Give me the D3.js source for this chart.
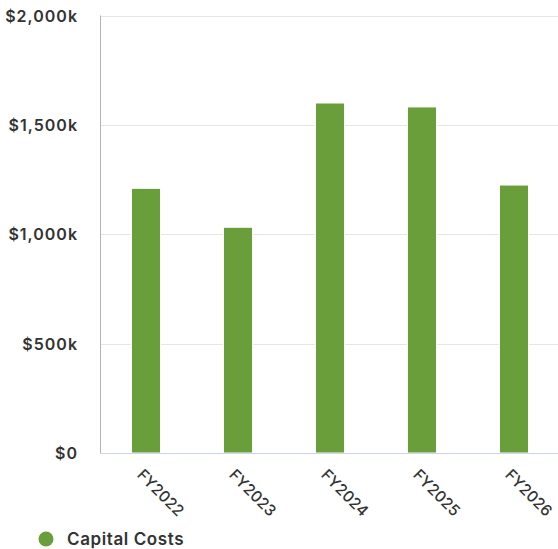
<!DOCTYPE html>
<html>
<head>
<meta charset="utf-8">
<script src="https://cdn.jsdelivr.net/npm/d3@7"></script>
<style>
  html, body { margin: 0; padding: 0; background: #fff; }
  svg { display: block; font-family: Inter, "Noto Sans", sans-serif; }
</style>
</head>
<body>
<svg id="chart" width="558" height="549"></svg>
<script>
// fiscal years and capital costs (in $k)
const years = ['FY2022', 'FY2023', 'FY2024', 'FY2025', 'FY2026'];
const capitalCosts = [1210, 1032, 1600, 1582, 1225];
const yTicks = [0, 500, 1000, 1500, 2000];
const seriesName = 'Capital Costs';

const W = 558, H = 549;
const margin = { top: 15.5, right: -2, bottom: 96, left: 100 };
const green = '#699e3a';

const svg = d3.select('#chart');

const x = d3.scaleBand()
  .domain(years)
  .range([margin.left, W - margin.right])
  .paddingInner(0.685)
  .paddingOuter(0.3425);

const y = d3.scaleLinear()
  .domain([0, 2000])
  .range([H - margin.bottom, margin.top]);

// gridlines
svg.append('g')
  .selectAll('line')
  .data(yTicks)
  .join('line')
  .attr('x1', margin.left)
  .attr('x2', W)
  .attr('y1', d => Math.round(y(d)) + 0.5)
  .attr('y2', d => Math.round(y(d)) + 0.5)
  .attr('stroke', '#e6e6e6');

// y axis labels
const yAxis = svg.append('g')
  .attr('transform', `translate(${margin.left - 23},0)`)
  .call(d3.axisLeft(y).tickValues(yTicks).tickSize(0)
    .tickFormat(d => '$' + d3.format(',')(d) + (d ? 'k' : '')));
yAxis.select('.domain').remove();
yAxis.selectAll('text')
  .attr('x', 1)
  .attr('dy', '0.35em')
  .attr('fill', '#333')
  .style('font-size', '16px')
  .style('letter-spacing', '1px')
  .style('font-weight', 600)
  .style('font-family', 'Inter, sans-serif');

// left axis line
svg.append('line')
  .attr('x1', margin.left + 0.5).attr('x2', margin.left + 0.5)
  .attr('y1', y(2000)).attr('y2', y(0))
  .attr('stroke', '#b3b3b3');

// bars
svg.append('g')
  .selectAll('rect')
  .data(capitalCosts)
  .join('rect')
  .attr('x', (d, i) => x(years[i]))
  .attr('width', x.bandwidth())
  .attr('y', d => y(d))
  .attr('height', d => y(0) - y(d))
  .attr('fill', green)
  .attr('stroke', '#fff')
  .attr('stroke-width', 1);

// x axis
const xAxis = svg.append('g')
  .attr('transform', `translate(0,${y(0)})`)
  .call(d3.axisBottom(x).tickSize(0));
xAxis.select('.domain')
  .attr('stroke', '#ccd6eb')
  .attr('d', `M${margin.left},0.5H${W}`);
xAxis.selectAll('text')
  .attr('fill', '#333')
  .attr('text-anchor', 'start')
  .attr('transform', 'translate(-6,19) rotate(45)')
  .attr('y', 0)
  .attr('dy', '0.35em')
  .style('font-size', '15.5px')
  .style('font-weight', 500)
  .style('font-family', 'Inter, sans-serif');

// legend
const legend = svg.append('g').attr('transform', 'translate(46,539)');
legend.append('circle').attr('r', 7.5).attr('fill', green);
legend.append('text')
  .attr('x', 21)
  .attr('dy', '0.35em')
  .attr('fill', '#333')
  .style('font-size', '17px')
  .style('letter-spacing', '0.6px')
  .style('font-weight', 600)
  .text(seriesName);
</script>
</body>
</html>
